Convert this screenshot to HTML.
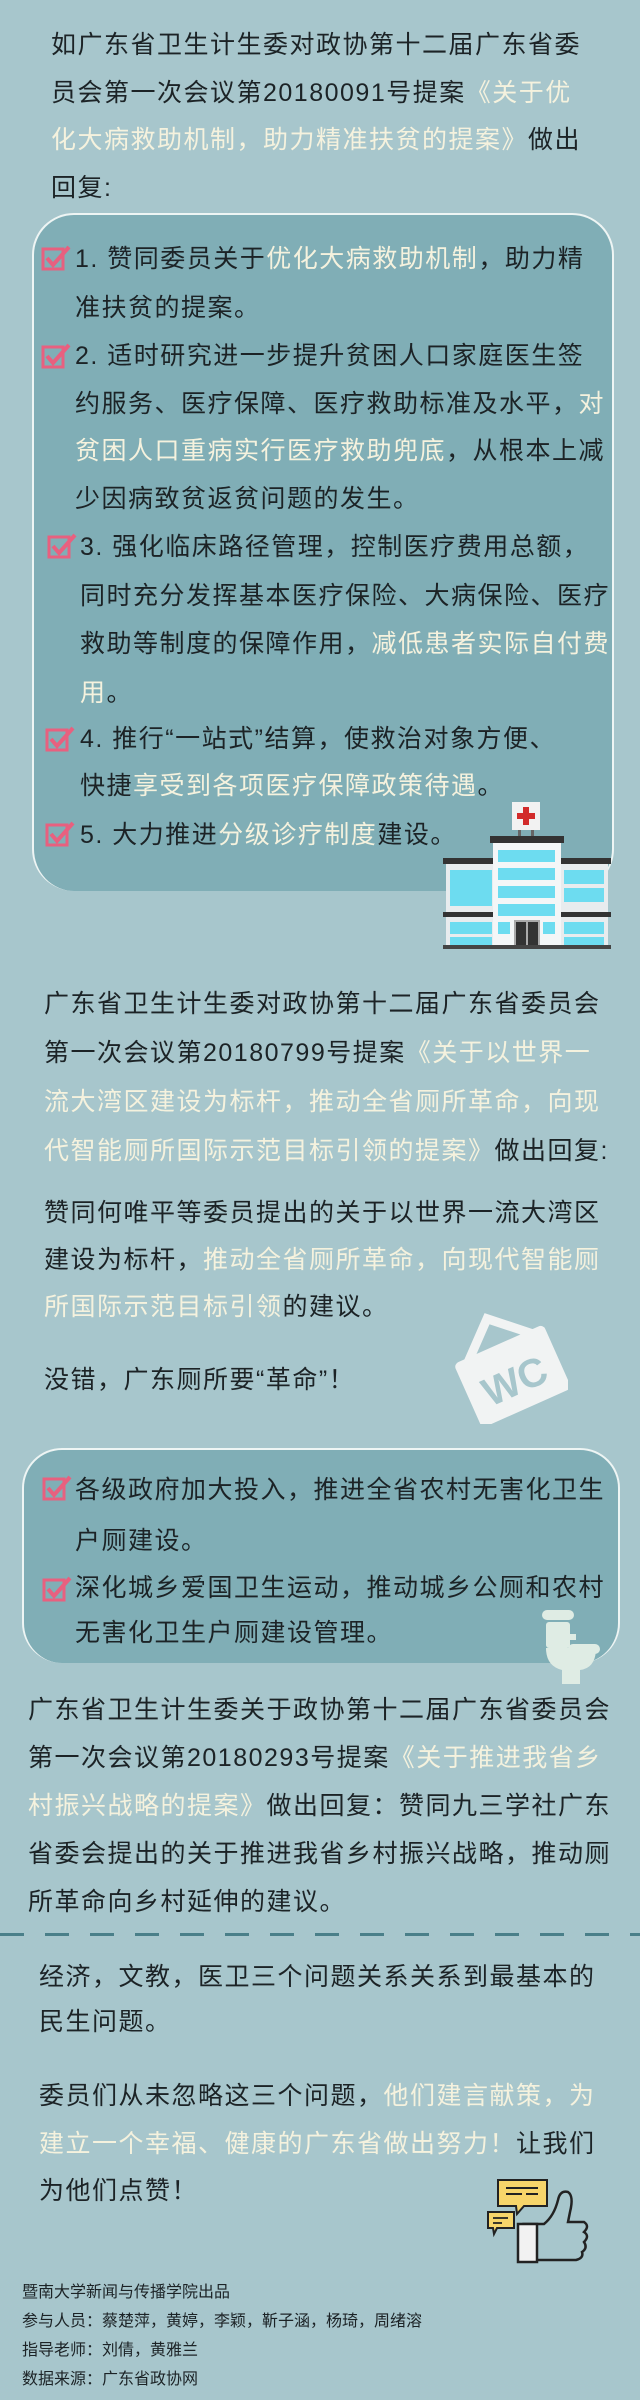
<!DOCTYPE html>
<html><head><meta charset="utf-8">
<style>
html,body{margin:0;padding:0}
body{width:640px;height:2400px;position:relative;background:#a7c6cc;overflow:hidden;font-family:"Liberation Sans","Noto Sans CJK SC",sans-serif;color:#1c2326}
.t{position:absolute;font-size:25px;letter-spacing:1.5px;white-space:nowrap}
.h{color:#f5f2de}
.box{position:absolute;background:#80aeb6;border-top:2px solid #eef5f4;border-left:2px solid #eef5f4;border-right:2px solid #eef5f4}
.chk{position:absolute;width:30px;height:26px}
.foot{position:absolute;left:22px;top:2278px;font-size:16px;line-height:29px;white-space:nowrap;color:#1c2326}
</style></head><body>

<div class="t" style="left:51px;top:22px;line-height:47.5px">如广东省卫生计生委对政协第十二届广东省委<br>员会第一次会议第20180091号提案<span class="h">《关于优<br>化大病救助机制，助力精准扶贫的提案》</span>做出<br>回复:</div>

<div class="box" style="left:32px;top:213px;width:578px;height:676px;border-radius:42px"></div>

<svg class="chk" style="left:41px;top:245px" viewBox="0 0 30 26"><rect x="2" y="4" width="20" height="20" fill="none" stroke="#e8607f" stroke-width="3"/><path d="M6 13l6 7L28 2" fill="none" stroke="#e8607f" stroke-width="4"/></svg>
<div class="t" style="left:75px;top:235px;line-height:49px">1. 赞同委员关于<span class="h">优化大病救助机制</span>，助力精<br>准扶贫的提案。</div>

<svg class="chk" style="left:41px;top:343px" viewBox="0 0 30 26"><rect x="2" y="4" width="20" height="20" fill="none" stroke="#e8607f" stroke-width="3"/><path d="M6 13l6 7L28 2" fill="none" stroke="#e8607f" stroke-width="4"/></svg>
<div class="t" style="left:75px;top:333px;line-height:47.5px">2. 适时研究进一步提升贫困人口家庭医生签<br>约服务、医疗保障、医疗救助标准及水平，<span class="h">对<br>贫困人口重病实行医疗救助兜底</span>，从根本上减<br>少因病致贫返贫问题的发生。</div>

<svg class="chk" style="left:47px;top:533px" viewBox="0 0 30 26"><rect x="2" y="4" width="20" height="20" fill="none" stroke="#e8607f" stroke-width="3"/><path d="M6 13l6 7L28 2" fill="none" stroke="#e8607f" stroke-width="4"/></svg>
<div class="t" style="left:80px;top:523px;line-height:48.5px">3. 强化临床路径管理，控制医疗费用总额，<br>同时充分发挥基本医疗保险、大病保险、医疗<br>救助等制度的保障作用，<span class="h">减低患者实际自付费<br>用</span>。</div>

<svg class="chk" style="left:45px;top:726px" viewBox="0 0 30 26"><rect x="2" y="4" width="20" height="20" fill="none" stroke="#e8607f" stroke-width="3"/><path d="M6 13l6 7L28 2" fill="none" stroke="#e8607f" stroke-width="4"/></svg>
<div class="t" style="left:80px;top:716px;line-height:47px">4. 推行“一站式”结算，使救治对象方便、<br>快捷<span class="h">享受到各项医疗保障政策待遇</span>。</div>

<svg class="chk" style="left:45px;top:821px" viewBox="0 0 30 26"><rect x="2" y="4" width="20" height="20" fill="none" stroke="#e8607f" stroke-width="3"/><path d="M6 13l6 7L28 2" fill="none" stroke="#e8607f" stroke-width="4"/></svg>
<div class="t" style="left:80px;top:811px;line-height:48px">5. 大力推进<span class="h">分级诊疗制度</span>建设。</div>

<svg style="position:absolute;left:443px;top:800px" width="168" height="150" viewBox="0 0 168 150">
<rect x="69" y="2" width="28" height="28" fill="#f2f2f2"/>
<rect x="80" y="7" width="6" height="18" fill="#d22b2b"/><rect x="74" y="13" width="18" height="6" fill="#d22b2b"/>
<rect x="75" y="30" width="3" height="8" fill="#666"/><rect x="88" y="30" width="3" height="8" fill="#666"/>
<rect x="0" y="58" width="168" height="6" fill="#333"/>
<rect x="3" y="64" width="162" height="82" fill="#e8ecee"/>
<rect x="0" y="112" width="168" height="5" fill="#333"/>
<rect x="7" y="70" width="42" height="36" fill="#6ddcf0"/><rect x="121" y="70" width="40" height="14" fill="#6ddcf0"/><rect x="121" y="88" width="40" height="14" fill="#6ddcf0"/>
<rect x="7" y="122" width="42" height="12" fill="#6ddcf0"/><rect x="7" y="137" width="42" height="8" fill="#6ddcf0"/>
<rect x="121" y="122" width="40" height="12" fill="#6ddcf0"/><rect x="121" y="137" width="40" height="8" fill="#6ddcf0"/>
<rect x="47" y="36" width="74" height="7" fill="#333"/>
<rect x="50" y="43" width="68" height="104" fill="#f4f6f7"/>
<rect x="55" y="50" width="57" height="12" fill="#6ddcf0"/><rect x="55" y="68" width="57" height="12" fill="#6ddcf0"/><rect x="55" y="86" width="57" height="12" fill="#6ddcf0"/><rect x="55" y="104" width="57" height="12" fill="#6ddcf0"/>
<rect x="55" y="122" width="12" height="12" fill="#6ddcf0"/><rect x="100" y="122" width="12" height="12" fill="#6ddcf0"/>
<rect x="71" y="120" width="26" height="27" fill="#aaa"/><rect x="73" y="122" width="10" height="25" fill="#333"/><rect x="85" y="122" width="10" height="25" fill="#333"/>
<rect x="0" y="145" width="168" height="4" fill="#444"/>
</svg>

<div class="t" style="left:44px;top:980px;line-height:49px">广东省卫生计生委对政协第十二届广东省委员会<br>第一次会议第20180799号提案<span class="h">《关于以世界一<br>流大湾区建设为标杆，推动全省厕所革命，向现<br>代智能厕所国际示范目标引领的提案》</span>做出回复:</div>

<div class="t" style="left:44px;top:1190px;line-height:47px">赞同何唯平等委员提出的关于以世界一流大湾区<br>建设为标杆，<span class="h">推动全省厕所革命，向现代智能厕<br>所国际示范目标引领</span>的建议。</div>

<div class="t" style="left:44px;top:1356px;line-height:48px">没错，广东厕所要“革命”！</div>

<svg style="position:absolute;left:450px;top:1308px" width="118" height="116" viewBox="0 0 118 116">
<g transform="rotate(-24 59 60)" fill="#f1f3f3">
<path d="M24 38 L59 6 L94 38" fill="none" stroke="#f1f3f3" stroke-width="9"/>
<rect x="10" y="34" width="98" height="70" rx="5"/>
<text x="59" y="88" text-anchor="middle" font-family="Liberation Sans,sans-serif" font-weight="bold" font-size="40" fill="#a7c6cc">WC</text>
</g></svg>

<div class="box" style="left:22px;top:1448px;width:594px;height:213px;border-radius:40px"></div>

<svg class="chk" style="left:42px;top:1475px" viewBox="0 0 30 26"><rect x="2" y="4" width="20" height="20" fill="none" stroke="#e8607f" stroke-width="3"/><path d="M6 13l6 7L28 2" fill="none" stroke="#e8607f" stroke-width="4"/></svg>
<div class="t" style="left:75px;top:1465px;line-height:51px">各级政府加大投入，推进全省农村无害化卫生<br>户厕建设。</div>

<svg class="chk" style="left:42px;top:1576px" viewBox="0 0 30 26"><rect x="2" y="4" width="20" height="20" fill="none" stroke="#e8607f" stroke-width="3"/><path d="M6 13l6 7L28 2" fill="none" stroke="#e8607f" stroke-width="4"/></svg>
<div class="t" style="left:75px;top:1566px;line-height:45px">深化城乡爱国卫生运动，推动城乡公厕和农村<br>无害化卫生户厕建设管理。</div>

<svg style="position:absolute;left:540px;top:1608px" width="64" height="76" viewBox="0 0 64 76" fill="#dfece4">
<rect x="2" y="2" width="32" height="10" rx="5"/>
<rect x="6" y="14" width="24" height="26" rx="3"/>
<rect x="30" y="26" width="6" height="6"/>
<rect x="28" y="36" width="32" height="10" rx="5"/>
<path d="M6 40 H56 Q56 60 40 62 V76 H22 V62 Q6 58 6 40Z"/>
</svg>

<div class="t" style="left:28px;top:1686px;line-height:48px">广东省卫生计生委关于政协第十二届广东省委员会<br>第一次会议第20180293号提案<span class="h">《关于推进我省乡<br>村振兴战略的提案》</span>做出回复：赞同九三学社广东<br>省委会提出的关于推进我省乡村振兴战略，推动厕<br>所革命向乡村延伸的建议。</div>

<div style="position:absolute;left:0;top:1933px;width:640px;height:3px;background:repeating-linear-gradient(90deg,#4a7f89 0 24px,transparent 24px 45px)"></div>

<div class="t" style="left:39px;top:1955px;line-height:45px">经济，文教，医卫三个问题关系关系到最基本的<br>民生问题。</div>

<div class="t" style="left:39px;top:2073px;line-height:47.5px">委员们从未忽略这三个问题，<span class="h">他们建言献策，为<br>建立一个幸福、健康的广东省做出努力！</span>让我们<br>为他们点赞！</div>

<svg style="position:absolute;left:486px;top:2178px" width="106" height="88" viewBox="0 0 106 88">
<path d="M38 46 L58 46 Q68 38 72 22 Q74 12 82 14 Q88 18 84 34 L82 44 L98 44 Q104 48 98 54 Q104 58 98 64 Q102 70 96 74 Q98 80 90 82 L50 82 Z" fill="none" stroke="#222" stroke-width="2.5"/>
<rect x="32" y="46" width="19" height="38" fill="#f2f2f2" stroke="#222" stroke-width="2.5"/>
<path d="M12 2 H61 V28 H38 L31 36 L30 28 H12 Z" fill="#f7d56a" stroke="#222" stroke-width="2"/>
<path d="M20 10 H52 M20 16 H36 M40 16 H52" stroke="#222" stroke-width="2"/>
<path d="M2 34 H28 V50 H11 L8 56 L7 50 H2 Z" fill="#f7d56a" stroke="#222" stroke-width="2"/>
<path d="M7 40 H22 M7 45 H16" stroke="#222" stroke-width="1.8"/>
</svg>

<div class="foot">暨南大学新闻与传播学院出品<br>参与人员：蔡楚萍，黄婷，李颖，靳子涵，杨琦，周绪溶<br>指导老师：刘倩，黄雅兰<br>数据来源：广东省政协网</div>

</body></html>
